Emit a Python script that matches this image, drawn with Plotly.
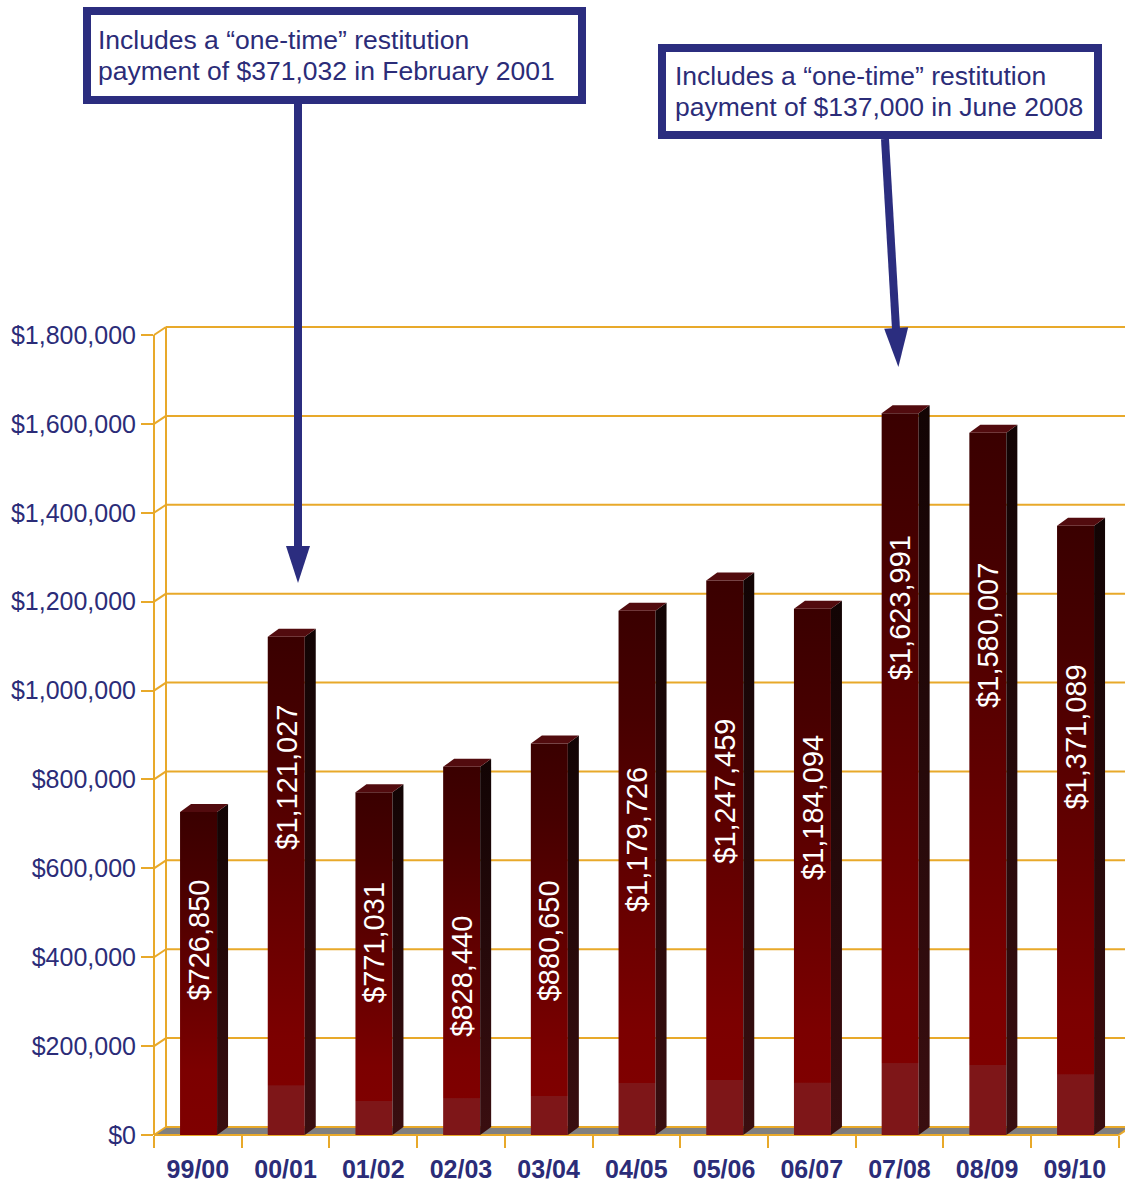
import plotly.graph_objects as go

# ---------------- data ----------------
years = ["99/00", "00/01", "01/02", "02/03", "03/04", "04/05",
         "05/06", "06/07", "07/08", "08/09", "09/10"]
amounts = [726850, 1121027, 771031, 828440, 880650, 1179726,
           1247459, 1184094, 1623991, 1580007, 1371089]
y_ticks = [0, 200000, 400000, 600000, 800000, 1000000,
           1200000, 1400000, 1600000, 1800000]
note_1 = ["Includes a \u201cone-time\u201d restitution",
          "payment of $371,032 in February 2001"]
note_2 = ["Includes a \u201cone-time\u201d restitution",
          "payment of $137,000 in June 2008"]

# ---------------- styles / layout constants ----------------
W, H = 1125, 1184
L, R, T, B = 154, 0, 300, 49
PW, PH = W - L - R, H - T - B
S = 87.7                 # px per category
YPX = 1800000 / 800.0    # value per px
X0 = -0.5
X1 = X0 + PW / S
Y1 = PH * YPX
DX, DY = 12 / S, 8 * YPX          # wall depth offset
BDX, BDY = 11 / S, 8 * YPX        # bar depth offset
HW = 18.5 / S                      # half width of bar front
SHIFT = 0.008
label_y = [438750, 804375, 434250, 357750, 436500, 663750,
           774000, 736875, 1185750, 1125000, 895500]
light_base = [False] + [True] * 10

GOLD = "#E8A92A"
NAVY = "#2B2D7F"
TXT = "#2B2C78"
FONT = "Arial, Liberation Sans, sans-serif"


def xp(x):
    return (x - X0) / (X1 - X0)


def yp(y):
    return y / Y1


def pxx(p):
    return (p - L) / PW


def pxy(p):
    return (H - B - p) / PH


fig = go.Figure()

front_band = [[0, "#7E1618"], [0.099, "#7E1618"], [0.1, "#7F0000"], [0.2, "#7C0000"],
              [0.5, "#620000"], [0.8, "#470000"], [1, "#3A0000"]]
front_plain = [[0, "#7F0000"], [0.2, "#7C0000"], [0.5, "#620000"],
               [0.8, "#470000"], [1, "#3A0000"]]
side_scale = [[0, "#3A0E10"], [1, "#120404"]]

for i, v in enumerate(amounts):
    c = i + SHIFT
    xl, xr = c - HW, c + HW
    # front face
    fig.add_trace(go.Scatter(
        x=[xl, xr, xr, xl, xl], y=[0, 0, v, v, 0], mode="lines",
        line=dict(width=0), fill="toself",
        fillgradient=dict(type="vertical",
                          colorscale=front_band if light_base[i] else front_plain),
        hoverinfo="skip", showlegend=False))
    # side face
    fig.add_trace(go.Scatter(
        x=[xr, xr + BDX, xr + BDX, xr, xr], y=[0, BDY, v + BDY, v, 0], mode="lines",
        line=dict(width=0), fill="toself",
        fillgradient=dict(type="vertical", colorscale=side_scale),
        hoverinfo="skip", showlegend=False))
    # top face
    fig.add_trace(go.Scatter(
        x=[xl, xr, xr + BDX, xl + BDX, xl], y=[v, v, v + BDY, v + BDY, v], mode="lines",
        line=dict(width=0), fill="toself", fillcolor="#520B0E",
        hoverinfo="skip", showlegend=False))
    # value label
    fig.add_annotation(x=c, y=label_y[i], xref="x", yref="y",
                       text=f"${v:,}", textangle=-90, showarrow=False,
                       xanchor="center", yanchor="middle",
                       font=dict(family=FONT, size=29, color="white"))

shapes = []
# floor
fx0, fx1 = -0.5, 10.5
shapes.append(dict(type="path", xref="paper", yref="paper", layer="below",
                   path=(f"M{xp(fx0)},{yp(0)} L{xp(fx1)},{yp(0)} L{xp(fx1 + DX)},{yp(DY)} "
                         f"L{xp(fx0 + DX)},{yp(DY)} Z"),
                   fillcolor="#808080", line=dict(width=0)))
shapes.append(dict(type="line", xref="paper", yref="paper", layer="below",
                   x0=xp(fx0), x1=xp(fx1), y0=yp(0), y1=yp(0),
                   line=dict(color=GOLD, width=2)))
shapes.append(dict(type="line", xref="paper", yref="paper", layer="below",
                   x0=xp(fx1), x1=xp(fx1 + DX), y0=yp(0), y1=yp(DY),
                   line=dict(color=GOLD, width=2)))
# front-left axis line and back wall line
shapes.append(dict(type="line", xref="paper", yref="paper", layer="below",
                   x0=xp(fx0), x1=xp(fx0), y0=yp(0), y1=yp(y_ticks[-1]),
                   line=dict(color=GOLD, width=2)))
shapes.append(dict(type="line", xref="paper", yref="paper", layer="below",
                   x0=xp(fx0 + DX), x1=xp(fx0 + DX), y0=yp(DY), y1=yp(y_ticks[-1] + DY),
                   line=dict(color=GOLD, width=2)))
# gridlines on back wall + diagonals
for t in y_ticks:
    shapes.append(dict(type="line", xref="paper", yref="paper", layer="below",
                       x0=xp(fx0), x1=xp(fx0 + DX), y0=yp(t), y1=yp(t + DY),
                       line=dict(color=GOLD, width=2)))
    x_end = 1.0 if t > 0 else min(1.0, xp(fx1 + DX))
    shapes.append(dict(type="line", xref="paper", yref="paper", layer="below",
                       x0=xp(fx0 + DX), x1=x_end, y0=yp(t + DY), y1=yp(t + DY),
                       line=dict(color=GOLD, width=2)))

# note boxes
for (bx0, by0, bx1, by1) in [(83, 7, 586, 104), (658, 44, 1102, 139)]:
    bw = 8
    shapes.append(dict(type="rect", xref="paper", yref="paper", layer="above",
                       x0=pxx(bx0 + bw / 2), x1=pxx(bx1 - bw / 2),
                       y0=pxy(by0 + bw / 2), y1=pxy(by1 - bw / 2),
                       fillcolor="white", line=dict(color=NAVY, width=bw)))

# arrows
arrows = [((298, 104), (298, 546), [(286, 546), (310, 546), (298, 583)]),
          ((885, 139), (896, 329), [(884.2, 328.7), (908.2, 327.3), (898.4, 367)])]
for (p0, p1, tri) in arrows:
    shapes.append(dict(type="line", xref="paper", yref="paper", layer="above",
                       x0=pxx(p0[0]), y0=pxy(p0[1]), x1=pxx(p1[0]), y1=pxy(p1[1]),
                       line=dict(color=NAVY, width=8)))
    path = "M" + " L".join(f"{pxx(a)},{pxy(b)}" for a, b in tri) + " Z"
    shapes.append(dict(type="path", xref="paper", yref="paper", layer="above",
                       path=path, fillcolor=NAVY, line=dict(width=0)))

fig.update_layout(shapes=shapes)

# note texts
for (lines, left, centers) in [(note_1, 96, (40, 71)), (note_2, 673, (76, 107))]:
    for txt, cy in zip(lines, centers):
        fig.add_annotation(x=pxx(left), y=pxy(cy), xref="paper", yref="paper",
                           text=txt, showarrow=False, xanchor="left", yanchor="middle",
                           font=dict(family=FONT, size=26.5, color=TXT))

fig.update_layout(
    width=W, height=H,
    margin=dict(l=L, r=R, t=T, b=B, pad=0),
    paper_bgcolor="white", plot_bgcolor="white",
    showlegend=False,
    xaxis=dict(range=[X0, X1], showgrid=False, zeroline=False, showline=False,
               tickmode="array", tickvals=list(range(len(years))), ticktext=years,
               ticks="outside", ticklen=12, tickcolor="rgba(0,0,0,0)",
               tickfont=dict(family=FONT, size=25, color=TXT, weight="bold"),
               minor=dict(tickmode="array",
                          tickvals=[k - 0.5 for k in range(len(years) + 1)],
                          ticks="outside", ticklen=12, tickwidth=2, tickcolor=GOLD,
                          showgrid=False),
               fixedrange=True),
    yaxis=dict(range=[0, Y1], showgrid=False, zeroline=False, showline=False,
               tickmode="array", tickvals=y_ticks, ticktext=[f"${t:,}" for t in y_ticks],
               ticks="outside", ticklen=12, tickwidth=2, tickcolor=GOLD,
               tickfont=dict(family=FONT, size=25, color=TXT),
               fixedrange=True),
)

fig.write_html("out.html", config={"displayModeBar": False},
               post_script="document.body.style.margin='0';document.body.style.padding='0';")
